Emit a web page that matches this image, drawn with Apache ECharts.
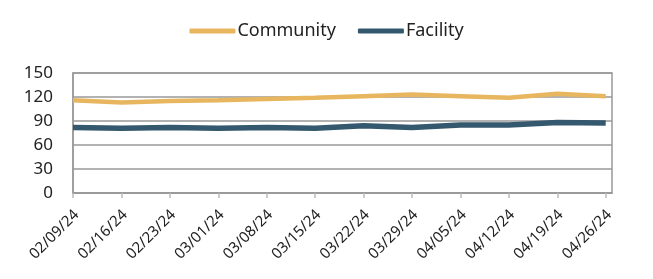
<!DOCTYPE html>
<html>
<head>
<meta charset="utf-8">
<script src="https://cdn.jsdelivr.net/npm/echarts@6/dist/echarts.min.js"></script>
<style>html,body{margin:0;padding:0;background:#fff}#c{width:653px;height:279px}</style>
</head>
<body>
<div id="c"></div>
<script>
const categories = ['02/09/24','02/16/24','02/23/24','03/01/24','03/08/24','03/15/24','03/22/24','03/29/24','04/05/24','04/12/24','04/19/24','04/26/24'];
const community = [116, 113, 115, 116, 117.5, 119, 121, 123, 121, 119, 124, 121];
const facility = [82, 81, 82, 81, 82, 81, 84, 82, 85, 85, 88, 87.5];
const yTicks = [0, 30, 60, 90, 120, 150];

const FONT = 'Noto Sans';
const idx = categories.map((_, i) => i);
const chart = echarts.init(document.getElementById('c'), null, {renderer: 'canvas'});
chart.setOption({
  animation: false,
  textStyle: {fontFamily: FONT},
  legend: {
    top: 17, left: 'center',
    itemWidth: 46, itemHeight: 5, itemGap: 22,
    icon: 'roundRect',
    textStyle: {fontFamily: FONT, fontSize: 18, color: '#222', padding: [0, 0, 0, -3]},
    data: ['Community', 'Facility']
  },
  grid: {left: 73, right: 41, top: 73, bottom: 86, show: true, borderColor: '#999', borderWidth: 1.5, backgroundColor: 'transparent'},
  xAxis: {
    type: 'value', min: 0, max: 11.13,
    axisLine: {show: true, lineStyle: {color: '#999', width: 1.5}},
    axisTick: {show: true, length: 5, lineStyle: {color: '#bbb', width: 1.5}, customValues: idx},
    axisLabel: {customValues: idx, rotate: 45, fontSize: 15, color: '#222', margin: 23,
      padding: [0, -5, 0, 0],
      formatter: v => categories[Math.round(v)]},
    splitLine: {show: false}
  },
  yAxis: {
    type: 'value', min: 0, max: 150, interval: 30,
    axisLine: {show: true, lineStyle: {color: '#999', width: 1.5}},
    axisTick: {show: false},
    axisLabel: {fontSize: 17, color: '#222', margin: 20,
      formatter: v => yTicks.includes(v) ? String(v) : ''},
    splitLine: {show: true, lineStyle: {color: '#999', width: 1.5}}
  },
  series: [
    {name: 'Community', type: 'line', data: community.map((v, i) => [i, v]), showSymbol: false,
     lineStyle: {color: '#E8B65F', width: 4.5}, itemStyle: {color: '#E8B65F'}},
    {name: 'Facility', type: 'line', data: facility.map((v, i) => [i, v]), showSymbol: false,
     lineStyle: {color: '#34586E', width: 5.5}, itemStyle: {color: '#34586E'}}
  ]
});
</script>
</body>
</html>
